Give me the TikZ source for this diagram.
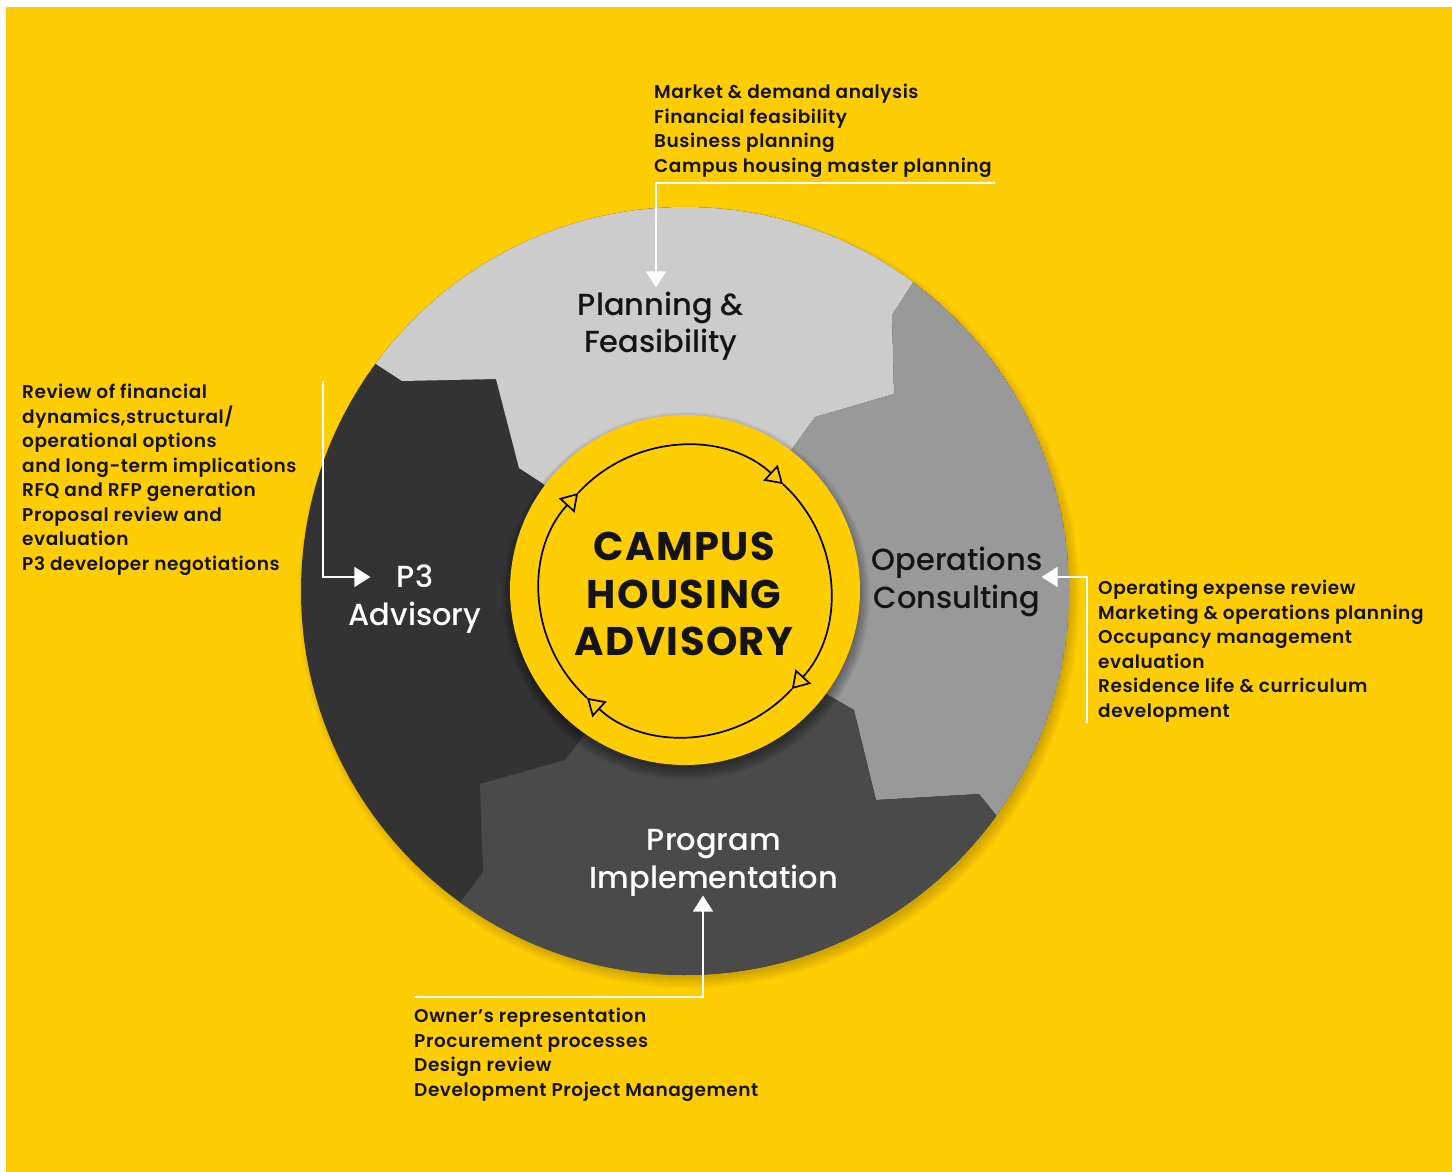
\documentclass[tikz,border=0pt]{standalone}
\usepackage{fontspec}
\setmainfont{Poppins}[UprightFont=* Medium, BoldFont=* Bold]
\newfontfamily\listfont{Poppins}[UprightFont=* SemiBold, LetterSpace=3]
\newfontfamily\hubfont{Poppins}[UprightFont=* Bold, LetterSpace=3.5]
\usepackage{tikz}
\usetikzlibrary{arrows.meta,positioning}

\definecolor{campusyellow}{HTML}{FFCD03}
\definecolor{planninggray}{HTML}{CCCCCC}
\definecolor{operationsgray}{HTML}{999999}
\definecolor{programgray}{HTML}{4A4A4A}
\definecolor{advisorygray}{HTML}{333333}
\definecolor{textblack}{HTML}{141414}

\begin{document}
\begin{tikzpicture}[
    x=1pt, y=-1pt,
    itemlist/.style={anchor=north west, align=left, inner sep=0pt, text=textblack, font=\listfont\fontsize{18.5}{24.5}\selectfont},
    segtext/.style={align=center, inner sep=0pt, font=\fontsize{30.5}{37.5}\selectfont},
    feed/.style={draw=white, line width=1.5pt, -{Triangle[length=16pt, width=20pt]}},
    turn/.style={line width=1.7pt, -{Triangle[length=17pt, width=21pt, fill=campusyellow]}}
]
    % Background
    \fill[white] (0,0) rectangle (1452,1172);
    \fill[campusyellow] (6,7) rectangle (1452,1172);
    \useasboundingbox (0,0) rectangle (1452,1172);

    % Soft shadow under the ring
    \foreach \k in {0,...,11}
        \fill[black, opacity=0.015] (689,597) circle[radius=380+\k];

    % Ring segments
    \begin{scope}
        \clip (685,591) circle[radius=384];
        \fill[advisorygray] (685,591) circle[radius=384];
        \fill[planninggray] (685,591) -- (542,483) -- (519,468) -- (496,379) -- (402,381) -- (376,364) -- (350,340)
            -- (300,150) -- (1000,150) -- (935,250) -- (912,284) -- (892,315) -- (894,394) -- (815,417) -- (792,449) -- cycle;
        \fill[operationsgray] (685,591) -- (792,449) -- (815,417) -- (894,394) -- (892,315) -- (912,284) -- (935,250)
            -- (1200,250) -- (1200,900) -- (1020,845) -- (996,815) -- (979,794) -- (876,800) -- (854,710) -- (828,695) -- cycle;
        \fill[programgray] (685,591) -- (828,695) -- (854,710) -- (876,800) -- (979,794) -- (996,815) -- (1020,845)
            -- (1020,1100) -- (420,1100) -- (440,930) -- (460,903) -- (483,872) -- (480,784) -- (565,760) -- (583,737) -- cycle;
        % hub shadow on the ring
        \foreach \k in {0,...,12}
            \fill[black, opacity=0.03] (686,596) circle[radius=172+\k];
    \end{scope}

    % Hub
    \fill[campusyellow] (685,590) circle[radius=175];
    \foreach \a in {-47.5,42.5,132.5,222.5}
        \draw[turn] (685,591) ++(\a-90:145) arc[start angle=\a-90, end angle=\a, radius=145];
    \node[align=center, inner sep=0pt, text=textblack, font=\hubfont\fontsize{40}{47.5}\selectfont] (hub) at (684,594) {CAMPUS\\HOUSING\\ADVISORY};

    % Segment titles
    \node[segtext, text=textblack] (planning) at (661,326) {Planning \&\\Feasibility};
    \node[segtext, text=white] (advisory) at (415,599) {P3\\Advisory};
    \node[segtext, text=textblack] (operations) at (957,582) {Operations\\Consulting};
    \node[segtext, text=white] (program) at (714,863) {Program\\Implementation};

    % Service lists
    \node[itemlist] (planlist) at (654,84) {Market \& demand analysis\\Financial feasibility\\Business planning\\Campus housing master planning};
    \node[itemlist] (advlist) at (22,384) {Review of financial\\dynamics,structural/\\operational options\\and long-term implications\\RFQ and RFP generation\\Proposal review and\\evaluation\\P3 developer negotiations};
    \node[itemlist] (opslist) at (1098,580) {Operating expense review\\Marketing \& operations planning\\Occupancy management\\evaluation\\Residence life \& curriculum\\development};
    \node[itemlist] (proglist) at (414,1008) {Owner’s representation\\Procurement processes\\Design review\\Development Project Management};

    % Feed lines
    \coordinate (planfeed) at (995,183);
    \coordinate (advfeed) at (323,381);
    \coordinate (opsfeed) at (1087,723);
    \coordinate (progfeed) at (414,997);
    \draw[feed] (planfeed) -| ([xshift=-5pt, yshift=4pt]planning.north);
    \draw[feed] (advfeed) |- ([xshift=22pt, yshift=22pt]advisory.west);
    \draw[feed] (opsfeed) |- ([xshift=-1pt, yshift=5pt]operations.east);
    \draw[feed] (progfeed) -| ([xshift=-11pt, yshift=1pt]program.south);
\end{tikzpicture}
\end{document}
